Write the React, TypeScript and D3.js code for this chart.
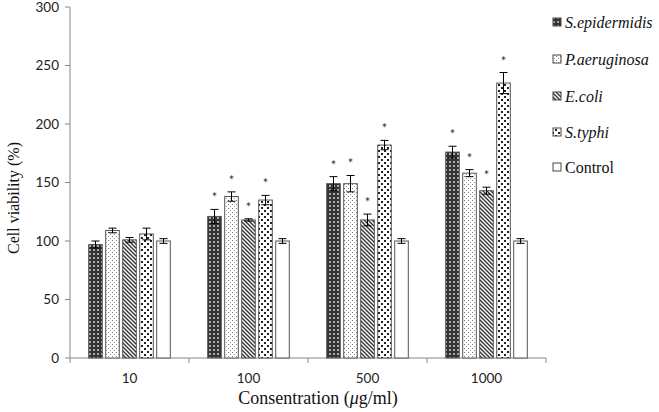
import * as d3 from 'd3'

const categories = ['10', '100', '500', '1000']
const seriesNames = ['S.epidermidis', 'P.aeruginosa', 'E.coli', 'S.typhi', 'Control']
const sEpidermidis = [97, 121, 149, 176]
const pAeruginosa = [109, 138, 149, 158]
const eColi = [101, 118, 118, 143]
const sTyphi = [106, 135, 182, 235]
const control = [100, 100, 100, 100]
const errEpidermidis = [3, 6, 6, 5]
const errAeruginosa = [2, 4, 7, 3]
const errColi = [2, 1, 5, 3]
const errTyphi = [5, 4, 4, 9]
const errControl = [2, 2, 2, 2]
const starred = [false, true, true, true]
const yTicks = [0, 50, 100, 150, 200, 250, 300]

const values = [sEpidermidis, pAeruginosa, eColi, sTyphi, control]
const errors = [errEpidermidis, errAeruginosa, errColi, errTyphi, errControl]
const fills = ['url(#pEpi)', 'url(#pAer)', 'url(#pColi)', 'url(#pTyphi)', '#fff']

const W = 659
const H = 412
const left = 70
const right = 546
const top = 7
const bottom = 358

const SANS = "Lato, 'Open Sans', 'Liberation Sans', sans-serif"
const SERIF = "Liberation Serif"

const App = () => {
  const x = d3.scaleBand().domain(categories).range([left, right]).padding(0)
  const xi = d3
    .scaleBand()
    .domain(seriesNames)
    .range([17, 102])
    .paddingInner(0.2)
    .paddingOuter(0.1)
  const y = d3.scaleLinear().domain([0, 300]).range([bottom, top])
  const bw = xi.bandwidth()

  return (
    <svg width={W} height={H} style={{ position: 'absolute', left: 0, top: 0, background: '#fff' }}>
      <defs>
        <pattern id="pEpi" width="4" height="4" patternUnits="userSpaceOnUse">
          <rect width="4" height="4" fill="#333" />
          <rect x="1" y="1" width="2" height="2" fill="#aaa" />
        </pattern>
        <pattern id="pAer" width="4" height="4" patternUnits="userSpaceOnUse">
          <rect width="4" height="4" fill="#fff" />
          <rect x="0" y="0" width="1" height="1" fill="#777" />
          <rect x="2" y="2" width="1" height="1" fill="#999" />
        </pattern>
        <pattern id="pColi" width="4" height="4" patternUnits="userSpaceOnUse">
          <rect width="4" height="4" fill="#fff" />
          <path d="M-1,-1 L5,5 M-1,3 L1,5 M3,-1 L5,1" stroke="#333" strokeWidth="1.4" />
        </pattern>
        <pattern id="pTyphi" width="6" height="6" patternUnits="userSpaceOnUse">
          <rect width="6" height="6" fill="#fff" />
          <rect x="0" y="0" width="2" height="2" fill="#222" />
          <rect x="3" y="3" width="2" height="2" fill="#222" />
        </pattern>
      </defs>

      {/* y axis */}
      <line x1={left} x2={left} y1={top} y2={bottom} stroke="#888" />
      {yTicks.map((t) => (
        <g key={t}>
          <line x1={left - 5} x2={left} y1={y(t)} y2={y(t)} stroke="#888" />
          <text
            x={left - 11}
            y={y(t)}
            dy="0.35em"
            textAnchor="end"
            fontFamily={SANS}
            fontSize={13.5}
            fill="#222"
          >
            {t}
          </text>
        </g>
      ))}

      {/* x axis */}
      <line x1={left} x2={right} y1={bottom} y2={bottom} stroke="#888" />
      {categories.map((c) => (
        <line
          key={'t' + c}
          x1={(x(c) as number) + x.bandwidth()}
          x2={(x(c) as number) + x.bandwidth()}
          y1={bottom}
          y2={bottom + 5}
          stroke="#888"
        />
      ))}
      <line x1={left} x2={left} y1={bottom} y2={bottom + 5} stroke="#888" />
      {categories.map((c) => (
        <text
          key={'l' + c}
          x={(x(c) as number) + x.bandwidth() / 2}
          y={bottom + 20}
          dy="0.35em"
          textAnchor="middle"
          fontFamily={SANS}
          fontSize={13.5}
          fill="#222"
        >
          {c}
        </text>
      ))}

      {/* bars */}
      {seriesNames.map((s, si) => (
        <g key={s}>
          {categories.map((c, ci) => {
            const v = values[si][ci]
            const e = errors[si][ci]
            const bx = (x(c) as number) + (xi(s) as number)
            const cx = bx + bw / 2
            return (
              <g key={c}>
                <rect
                  x={bx}
                  y={y(v)}
                  width={bw}
                  height={bottom - y(v)}
                  fill={fills[si]}
                  stroke="#555"
                  strokeWidth={1}
                />
                <line x1={cx} x2={cx} y1={y(v + e)} y2={y(v - e)} stroke="#000" />
                <line x1={cx - 4} x2={cx + 4} y1={y(v + e)} y2={y(v + e)} stroke="#000" />
                <line x1={cx - 4} x2={cx + 4} y1={y(v - e)} y2={y(v - e)} stroke="#000" />
                {starred[ci] && s !== 'Control' && (
                  <text
                    x={cx}
                    y={y(v + e) - 7}
                    textAnchor="middle"
                    fontFamily={SANS}
                    fontSize={13}
                    fill="#333"
                  >
                    *
                  </text>
                )}
              </g>
            )
          })}
        </g>
      ))}

      {/* legend */}
      {seriesNames.map((s, si) => {
        const ly = [22, 59, 96, 132, 167][si]
        return (
          <g key={'lg' + s}>
            <rect
              x={553}
              y={ly - 4}
              width={8}
              height={8}
              fill={fills[si]}
              stroke="#444"
              strokeWidth={1}
            />
            <text
              x={565}
              y={ly}
              dy="0.35em"
              fontFamily={SERIF}
              fontStyle={s === 'Control' ? 'normal' : 'italic'}
              fontSize={16}
              fill="#111"
            >
              {s}
            </text>
          </g>
        )
      })}

      {/* axis titles */}
      <text
        transform="translate(19, 198) rotate(-90)"
        textAnchor="middle"
        fontFamily={SERIF}
        fontSize={16}
        fill="#111"
      >
        Cell viability (%)
      </text>
      <text
        x={318}
        y={404}
        textAnchor="middle"
        fontFamily={SERIF}
        fontSize={18}
        fill="#111"
      >
        Consentration (<tspan fontStyle="italic">μ</tspan>g/ml)
      </text>
    </svg>
  )
}

export default App
